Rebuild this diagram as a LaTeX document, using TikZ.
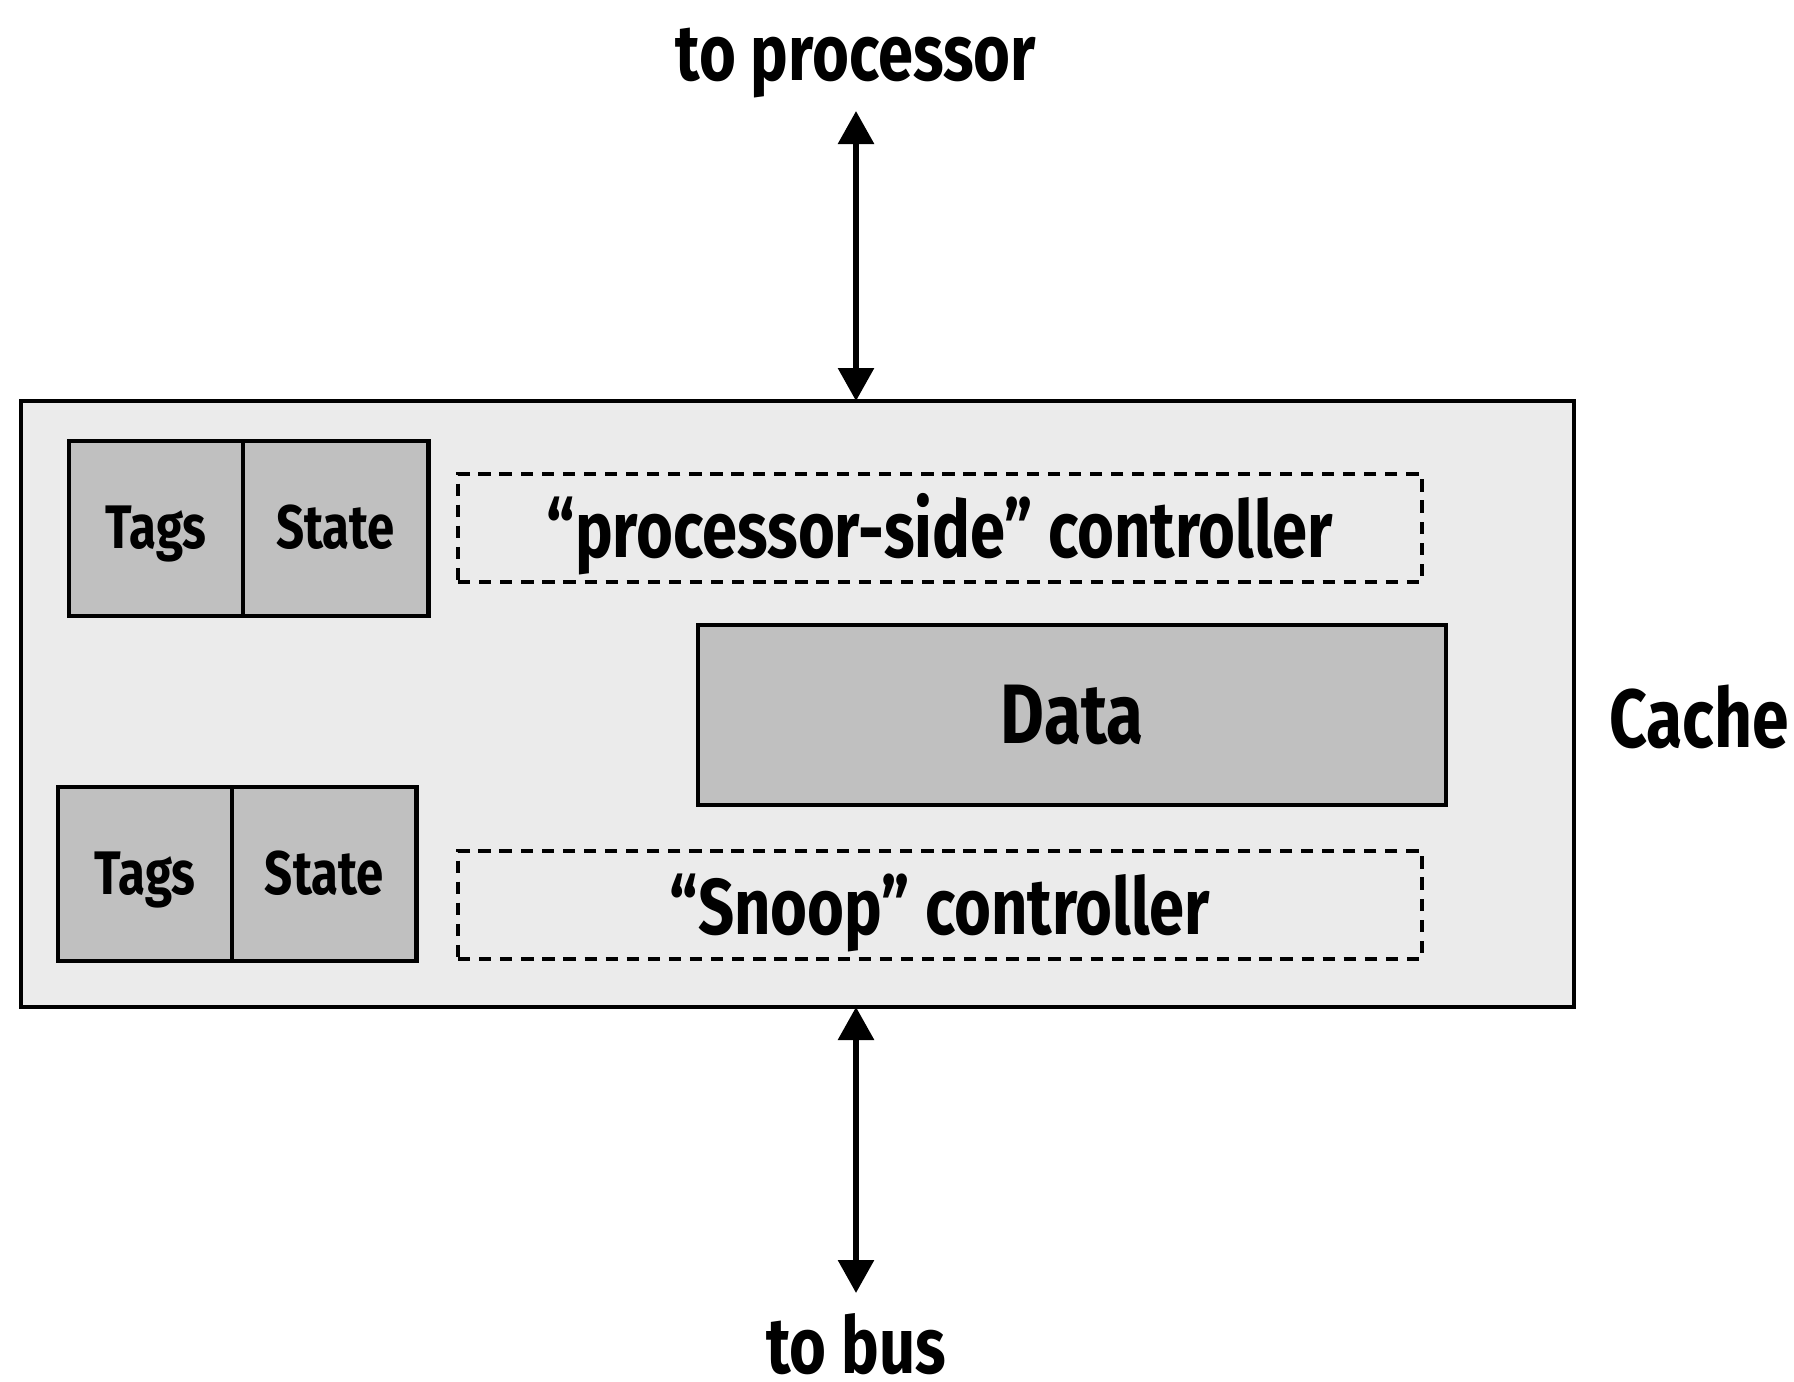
\documentclass[tikz,border=0pt]{standalone}
\usepackage{fontspec}
\setmainfont{Fira Sans}[FakeStretch=0.8]
\usepackage{tikz}
\usetikzlibrary{arrows.meta, positioning, calc}
\definecolor{cachegray}{HTML}{EBEBEB}
\definecolor{cellgray}{HTML}{C0C0C0}

\begin{document}
\begin{tikzpicture}[
          x=0.1mm, y=-0.1mm,
          cachebox/.style={draw, line width=1.4pt, fill=cachegray, anchor=north west, inner sep=0pt, outer sep=0pt},
          cell/.style={draw, line width=1.2pt, fill=cellgray, anchor=north west, inner sep=0pt, outer sep=0pt,
                       minimum height=17.5mm, text height=11.5pt, text depth=0pt,
                       font=\fontsize{17.5}{20}\selectfont\bfseries},
          ctrlbox/.style={draw, dash pattern=on 3.5pt off 2.5pt, line width=1.1pt, anchor=north west,
                          inner sep=0pt, outer sep=0pt, minimum width=96.4mm, minimum height=10.8mm,
                          text height=16.6pt, text depth=0pt,
                          font=\fontsize{22.5}{26}\selectfont\bfseries},
          lbl/.style={font=\fontsize{22.5}{26}\selectfont\bfseries, inner sep=0pt},
          bus/.style={{Triangle[width=3.5mm,length=3.3mm]}-{Triangle[width=3.5mm,length=3.3mm]}, line width=0.6mm},
          >=Stealth
        ]
        \useasboundingbox (0,0) rectangle (1794,1381);
        % the cache
        \node [cachebox, minimum width=155.3mm, minimum height=60.6mm] (cache) at (21,401) {};
        \node [lbl, font=\fontsize{23.5}{28}\selectfont\bfseries] (cachelbl) at (1699,717) {Cache};

        % tags and state, processor side
        \node [cell, minimum width=17.4mm] (ptags) at (69,441) {Tags};
        \node [cell, minimum width=18.55mm] (pstate) at (ptags.north east) {State};
        % tags and state, snoop side
        \node [cell, minimum width=17.4mm, minimum height=17.4mm] (stags) at (58,787) {Tags};
        \node [cell, minimum width=18.45mm, minimum height=17.4mm] (sstate) at (stags.north east) {State};

        % controllers and data
        \node [ctrlbox] (pctrl) at (458,474) {“processor-side” controller};
        \node [ctrlbox] (sctrl) at (458,851) {“Snoop” controller};
        \node [cell, minimum width=74.8mm, minimum height=18mm, text height=16.3pt,
               font=\fontsize{24}{28}\selectfont\bfseries] (data) at (698,625) {Data};

        % to processor / to bus
        \node [lbl] (proc) at (856,63) {to processor};
        \node [lbl] (bus) at (856,1344) {to bus};
        \coordinate (ptop) at (856,111);
        \coordinate (bbot) at (856,1293);
        \draw [bus] (ptop) -- (ptop |- cache.north);
        \draw [bus] (bbot |- cache.south) -- (bbot);
        \end{tikzpicture}
\end{document}
